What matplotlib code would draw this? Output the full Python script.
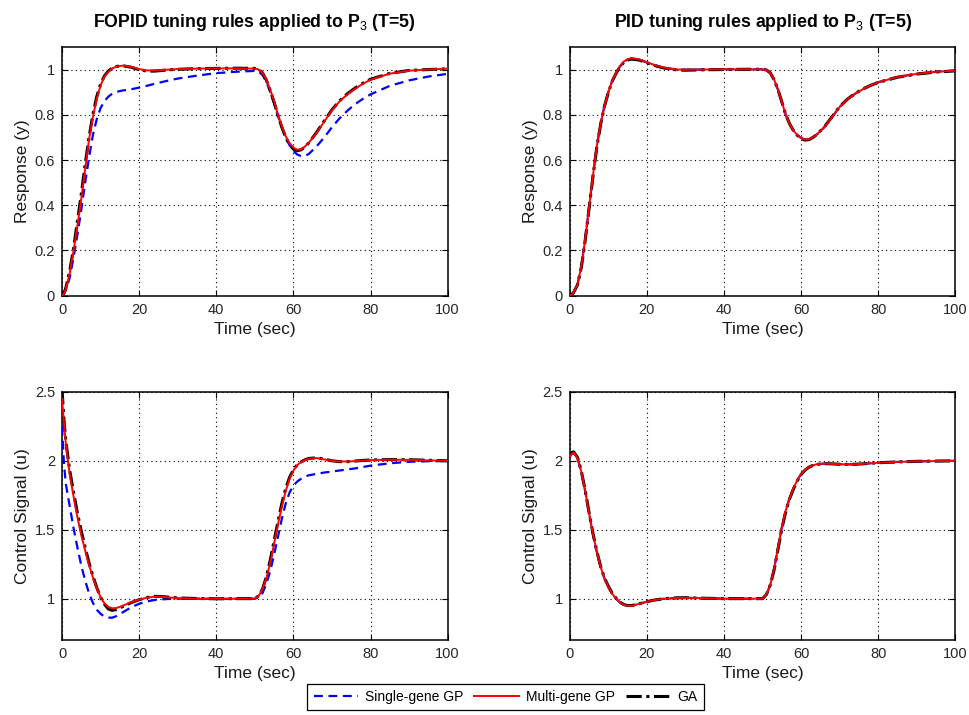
import matplotlib.pyplot as plt
from matplotlib.lines import Line2D

plt.rcParams['font.family'] = ['Liberation Sans', 'DejaVu Sans']
plt.rcParams['mathtext.fontset'] = 'custom'
plt.rcParams['mathtext.rm'] = 'Liberation Sans'
plt.rcParams['mathtext.it'] = 'Liberation Sans:italic'
plt.rcParams['mathtext.bf'] = 'Liberation Sans:bold'

# simulation time (sec)
t = [0, 0.5, 1, 2, 3, 4, 5, 6, 7, 8, 9, 10, 11, 12, 13, 14, 15, 16, 18, 20,
     22, 24, 26, 28, 30, 35, 40, 45, 50, 51, 52, 53, 54, 55, 56, 57, 58, 59,
     60, 61, 62, 63, 64, 66, 68, 70, 72, 74, 76, 78, 80, 85, 90, 95, 100]

# FOPID controller - output y
fopid_y_single = [0, 0.008, 0.025, 0.08, 0.17, 0.27, 0.38, 0.5, 0.61, 0.71, 0.78, 0.83, 0.86, 0.88, 0.893, 0.9, 0.905, 0.908, 0.913, 0.92,
                  0.928, 0.937, 0.945, 0.953, 0.96, 0.973, 0.984, 0.99, 0.994, 0.99, 0.975, 0.945, 0.9, 0.85, 0.795, 0.745, 0.7, 0.665,
                  0.64, 0.624, 0.617, 0.618, 0.627, 0.66, 0.70, 0.745, 0.785, 0.818, 0.847, 0.87, 0.89, 0.928, 0.952, 0.969, 0.981]
fopid_y_multi = [0, 0.01, 0.03, 0.1, 0.2, 0.31, 0.43, 0.56, 0.69, 0.79, 0.87, 0.93, 0.97, 0.99, 1.005, 1.012, 1.016, 1.017, 1.012, 1.002,
                 0.996, 0.996, 0.998, 1.0, 1.002, 1.004, 1.005, 1.005, 1.004, 1.0, 0.985, 0.955, 0.91, 0.86, 0.8, 0.75, 0.705, 0.675,
                 0.655, 0.645, 0.648, 0.66, 0.677, 0.72, 0.77, 0.82, 0.86, 0.89, 0.915, 0.937, 0.955, 0.982, 0.995, 1.0, 1.004]
fopid_y_ga = [0, 0.012, 0.035, 0.11, 0.21, 0.33, 0.45, 0.58, 0.70, 0.80, 0.88, 0.935, 0.972, 0.993, 1.006, 1.013, 1.016, 1.016, 1.01, 0.999,
              0.993, 0.993, 0.996, 0.999, 1.001, 1.004, 1.005, 1.006, 1.005, 1.0, 0.985, 0.953, 0.907, 0.855, 0.797, 0.745, 0.70, 0.668,
              0.648, 0.641, 0.645, 0.658, 0.676, 0.722, 0.773, 0.822, 0.862, 0.893, 0.918, 0.939, 0.957, 0.983, 0.996, 1.0, 1.003]

# PID controller - output y
pid_y_single = [0, 0.005, 0.015, 0.05, 0.13, 0.25, 0.39, 0.53, 0.66, 0.76, 0.84, 0.90, 0.95, 0.985, 1.013, 1.033, 1.044, 1.048, 1.044, 1.031,
                1.019, 1.009, 1.004, 1.0, 0.999, 1.0, 1.001, 1.001, 1.001, 0.998, 0.985, 0.955, 0.91, 0.855, 0.8, 0.76, 0.73, 0.71,
                0.697, 0.69, 0.692, 0.70, 0.712, 0.745, 0.79, 0.835, 0.868, 0.893, 0.913, 0.93, 0.944, 0.967, 0.981, 0.99, 0.995]
pid_y_multi = [0, 0.005, 0.015, 0.05, 0.13, 0.25, 0.39, 0.53, 0.66, 0.76, 0.84, 0.90, 0.95, 0.985, 1.015, 1.035, 1.046, 1.051, 1.045, 1.032,
               1.02, 1.01, 1.004, 1.0, 0.999, 1.0, 1.001, 1.001, 1.001, 0.998, 0.985, 0.955, 0.91, 0.855, 0.8, 0.76, 0.73, 0.71,
               0.697, 0.69, 0.692, 0.70, 0.712, 0.745, 0.79, 0.835, 0.868, 0.893, 0.913, 0.93, 0.944, 0.967, 0.981, 0.99, 0.995]
pid_y_ga = [0, 0.005, 0.014, 0.048, 0.125, 0.245, 0.385, 0.525, 0.655, 0.757, 0.838, 0.898, 0.948, 0.983, 1.012, 1.031, 1.042, 1.046, 1.042, 1.03,
            1.018, 1.008, 1.002, 0.998, 0.997, 0.999, 1.0, 1.001, 1.001, 0.998, 0.985, 0.955, 0.91, 0.856, 0.801, 0.76, 0.73, 0.709,
            0.695, 0.688, 0.69, 0.699, 0.712, 0.746, 0.791, 0.836, 0.869, 0.894, 0.914, 0.93, 0.943, 0.966, 0.98, 0.989, 0.994]

# FOPID controller - control signal u
fopid_u_single = [2.25, 1.98, 1.83, 1.67, 1.51, 1.37, 1.24, 1.13, 1.04, 0.97, 0.92, 0.89, 0.87, 0.862, 0.862, 0.872, 0.888, 0.905, 0.938, 0.963,
                  0.98, 0.99, 0.995, 0.998, 1.0, 1.0, 0.998, 0.998, 0.999, 1.01, 1.04, 1.11, 1.2, 1.32, 1.45, 1.58, 1.69, 1.77,
                  1.82, 1.85, 1.87, 1.885, 1.895, 1.905, 1.915, 1.922, 1.93, 1.937, 1.945, 1.955, 1.965, 1.982, 1.993, 1.997, 1.998]
fopid_u_multi = [2.45, 2.28, 2.12, 1.9, 1.74, 1.59, 1.46, 1.35, 1.245, 1.155, 1.075, 1.01, 0.965, 0.94, 0.93, 0.932, 0.94, 0.952, 0.975, 0.993,
                 1.007, 1.015, 1.013, 1.008, 1.004, 1.0, 0.999, 1.0, 1.0, 1.02, 1.07, 1.15, 1.26, 1.4, 1.54, 1.67, 1.78, 1.87,
                 1.93, 1.97, 1.99, 2.005, 2.015, 2.02, 2.01, 2.0, 1.995, 1.995, 1.998, 2.002, 2.005, 2.008, 2.007, 2.003, 2.0]
fopid_u_ga = [2.52, 2.3, 2.14, 1.93, 1.77, 1.62, 1.49, 1.37, 1.26, 1.165, 1.08, 1.01, 0.96, 0.925, 0.915, 0.92, 0.932, 0.946, 0.972, 0.992,
              1.008, 1.017, 1.015, 1.01, 1.005, 1.001, 0.999, 1.0, 1.0, 1.02, 1.07, 1.16, 1.28, 1.42, 1.56, 1.69, 1.80, 1.88,
              1.935, 1.972, 1.992, 2.007, 2.017, 2.022, 2.012, 2.0, 1.994, 1.994, 1.998, 2.003, 2.006, 2.009, 2.008, 2.004, 2.0]

# PID controller - control signal u
pid_u_single = [2.03, 2.05, 2.06, 2.02, 1.92, 1.78, 1.62, 1.47, 1.34, 1.23, 1.145, 1.085, 1.035, 1.0, 0.972, 0.955, 0.948, 0.948, 0.962, 0.978,
                0.99, 0.998, 1.002, 1.005, 1.006, 1.003, 1.0, 1.0, 1.0, 1.03, 1.1, 1.22, 1.37, 1.52, 1.64, 1.73, 1.8, 1.86,
                1.905, 1.935, 1.955, 1.967, 1.975, 1.98, 1.978, 1.975, 1.974, 1.975, 1.978, 1.982, 1.986, 1.992, 1.996, 1.998, 2.0]
pid_u_multi = [2.03, 2.05, 2.06, 2.02, 1.92, 1.78, 1.62, 1.47, 1.34, 1.23, 1.145, 1.085, 1.035, 1.0, 0.972, 0.955, 0.948, 0.948, 0.962, 0.978,
               0.99, 0.998, 1.002, 1.005, 1.006, 1.003, 1.0, 1.0, 1.0, 1.03, 1.1, 1.22, 1.37, 1.52, 1.64, 1.73, 1.8, 1.86,
               1.905, 1.935, 1.955, 1.967, 1.975, 1.98, 1.978, 1.975, 1.974, 1.975, 1.978, 1.982, 1.986, 1.992, 1.996, 1.998, 2.0]
pid_u_ga = [2.04, 2.06, 2.065, 2.025, 1.925, 1.785, 1.625, 1.475, 1.345, 1.235, 1.15, 1.09, 1.04, 1.003, 0.975, 0.957, 0.95, 0.95, 0.963, 0.978,
            0.99, 0.998, 1.003, 1.006, 1.007, 1.003, 1.0, 1.0, 1.0, 1.03, 1.1, 1.21, 1.36, 1.51, 1.63, 1.725, 1.795, 1.855,
            1.9, 1.932, 1.953, 1.966, 1.974, 1.979, 1.978, 1.975, 1.974, 1.975, 1.978, 1.982, 1.986, 1.992, 1.996, 1.998, 2.0]

series_labels = ['Single-gene GP', 'Multi-gene GP', 'GA']

y_ticks = [0, 0.2, 0.4, 0.6, 0.8, 1]
y_ticklabels = ['0', '0.2', '0.4', '0.6', '0.8', '1']
u_ticks = [1, 1.5, 2, 2.5]
u_ticklabels = ['1', '1.5', '2', '2.5']
x_ticks = [0, 20, 40, 60, 80, 100]


def style_axes(ax, yticks, yticklabels, ylim, ylabel):
    ax.set_xlim(0, 100)
    ax.set_ylim(*ylim)
    ax.set_xticks(x_ticks)
    ax.set_xticklabels([str(v) for v in x_ticks])
    ax.set_yticks(yticks)
    ax.set_yticklabels(yticklabels)
    ax.tick_params(direction='in', length=4, width=0.8, top=True, right=True,
                   labelsize=10.5, pad=5, colors='black', labelcolor='#262626')
    ax.grid(True, color='black', linestyle=(0, (1, 3)), linewidth=0.8)
    for s in ax.spines.values():
        s.set_linewidth(1.1)
        s.set_color('black')
    ax.set_xlabel('Time (sec)', fontsize=12.5, color='#1a1a1a')
    ax.xaxis.set_label_coords(0.5, -0.105)
    ax.set_ylabel(ylabel, fontsize=12.5, color='#1a1a1a')
    ax.yaxis.set_label_coords(-0.083, 0.5)


def draw(ax, single, multi, ga):
    ax.plot(t, single, color='blue', linestyle=(0, (4, 2.5)), linewidth=1.6, zorder=3)
    ax.plot(t, ga, color='black', linestyle=(0, (5, 1.5, 1, 1.5)), linewidth=2.2, zorder=4)
    ax.plot(t, multi, color='red', linestyle='-', linewidth=1.4, zorder=5)


fig = plt.figure(figsize=(9.69, 7.15), dpi=100)
ax_tl = fig.add_axes([0.064, 0.5864, 0.398, 0.348])
ax_tr = fig.add_axes([0.588, 0.5864, 0.398, 0.348])
ax_bl = fig.add_axes([0.064, 0.1049, 0.398, 0.347])
ax_br = fig.add_axes([0.588, 0.1049, 0.398, 0.347])

draw(ax_tl, fopid_y_single, fopid_y_multi, fopid_y_ga)
draw(ax_tr, pid_y_single, pid_y_multi, pid_y_ga)
draw(ax_bl, fopid_u_single, fopid_u_multi, fopid_u_ga)
draw(ax_br, pid_u_single, pid_u_multi, pid_u_ga)

style_axes(ax_tl, y_ticks, y_ticklabels, (0, 1.1), 'Response (y)')
style_axes(ax_tr, y_ticks, y_ticklabels, (0, 1.1), 'Response (y)')
style_axes(ax_bl, u_ticks, u_ticklabels, (0.7, 2.5), 'Control Signal (u)')
style_axes(ax_br, u_ticks, u_ticklabels, (0.7, 2.5), 'Control Signal (u)')

ax_tl.set_title('FOPID tuning rules applied to P$_3$ (T=5)', fontsize=12.8,
                fontweight='bold', pad=14)
ax_tr.set_title('PID tuning rules applied to P$_3$ (T=5)', fontsize=12.8,
                fontweight='bold', pad=14)

handles = [
    Line2D([], [], color='blue', linestyle=(0, (4, 2.5)), linewidth=1.6),
    Line2D([], [], color='red', linestyle='-', linewidth=1.4),
    Line2D([], [], color='black', linestyle=(0, (5, 1.5, 1, 1.5)), linewidth=2.2),
]
leg = fig.legend(handles, series_labels, loc='upper center', bbox_to_anchor=(0.5217, 0.0434),
                 ncol=3, frameon=True, fancybox=False, edgecolor='black', framealpha=1,
                 borderaxespad=0, handlelength=3.2, columnspacing=0.8, handletextpad=0.5,
                 borderpad=0.45, fontsize=10)
leg.get_frame().set_linewidth(0.9)

fig.savefig('out.png', dpi=100)
